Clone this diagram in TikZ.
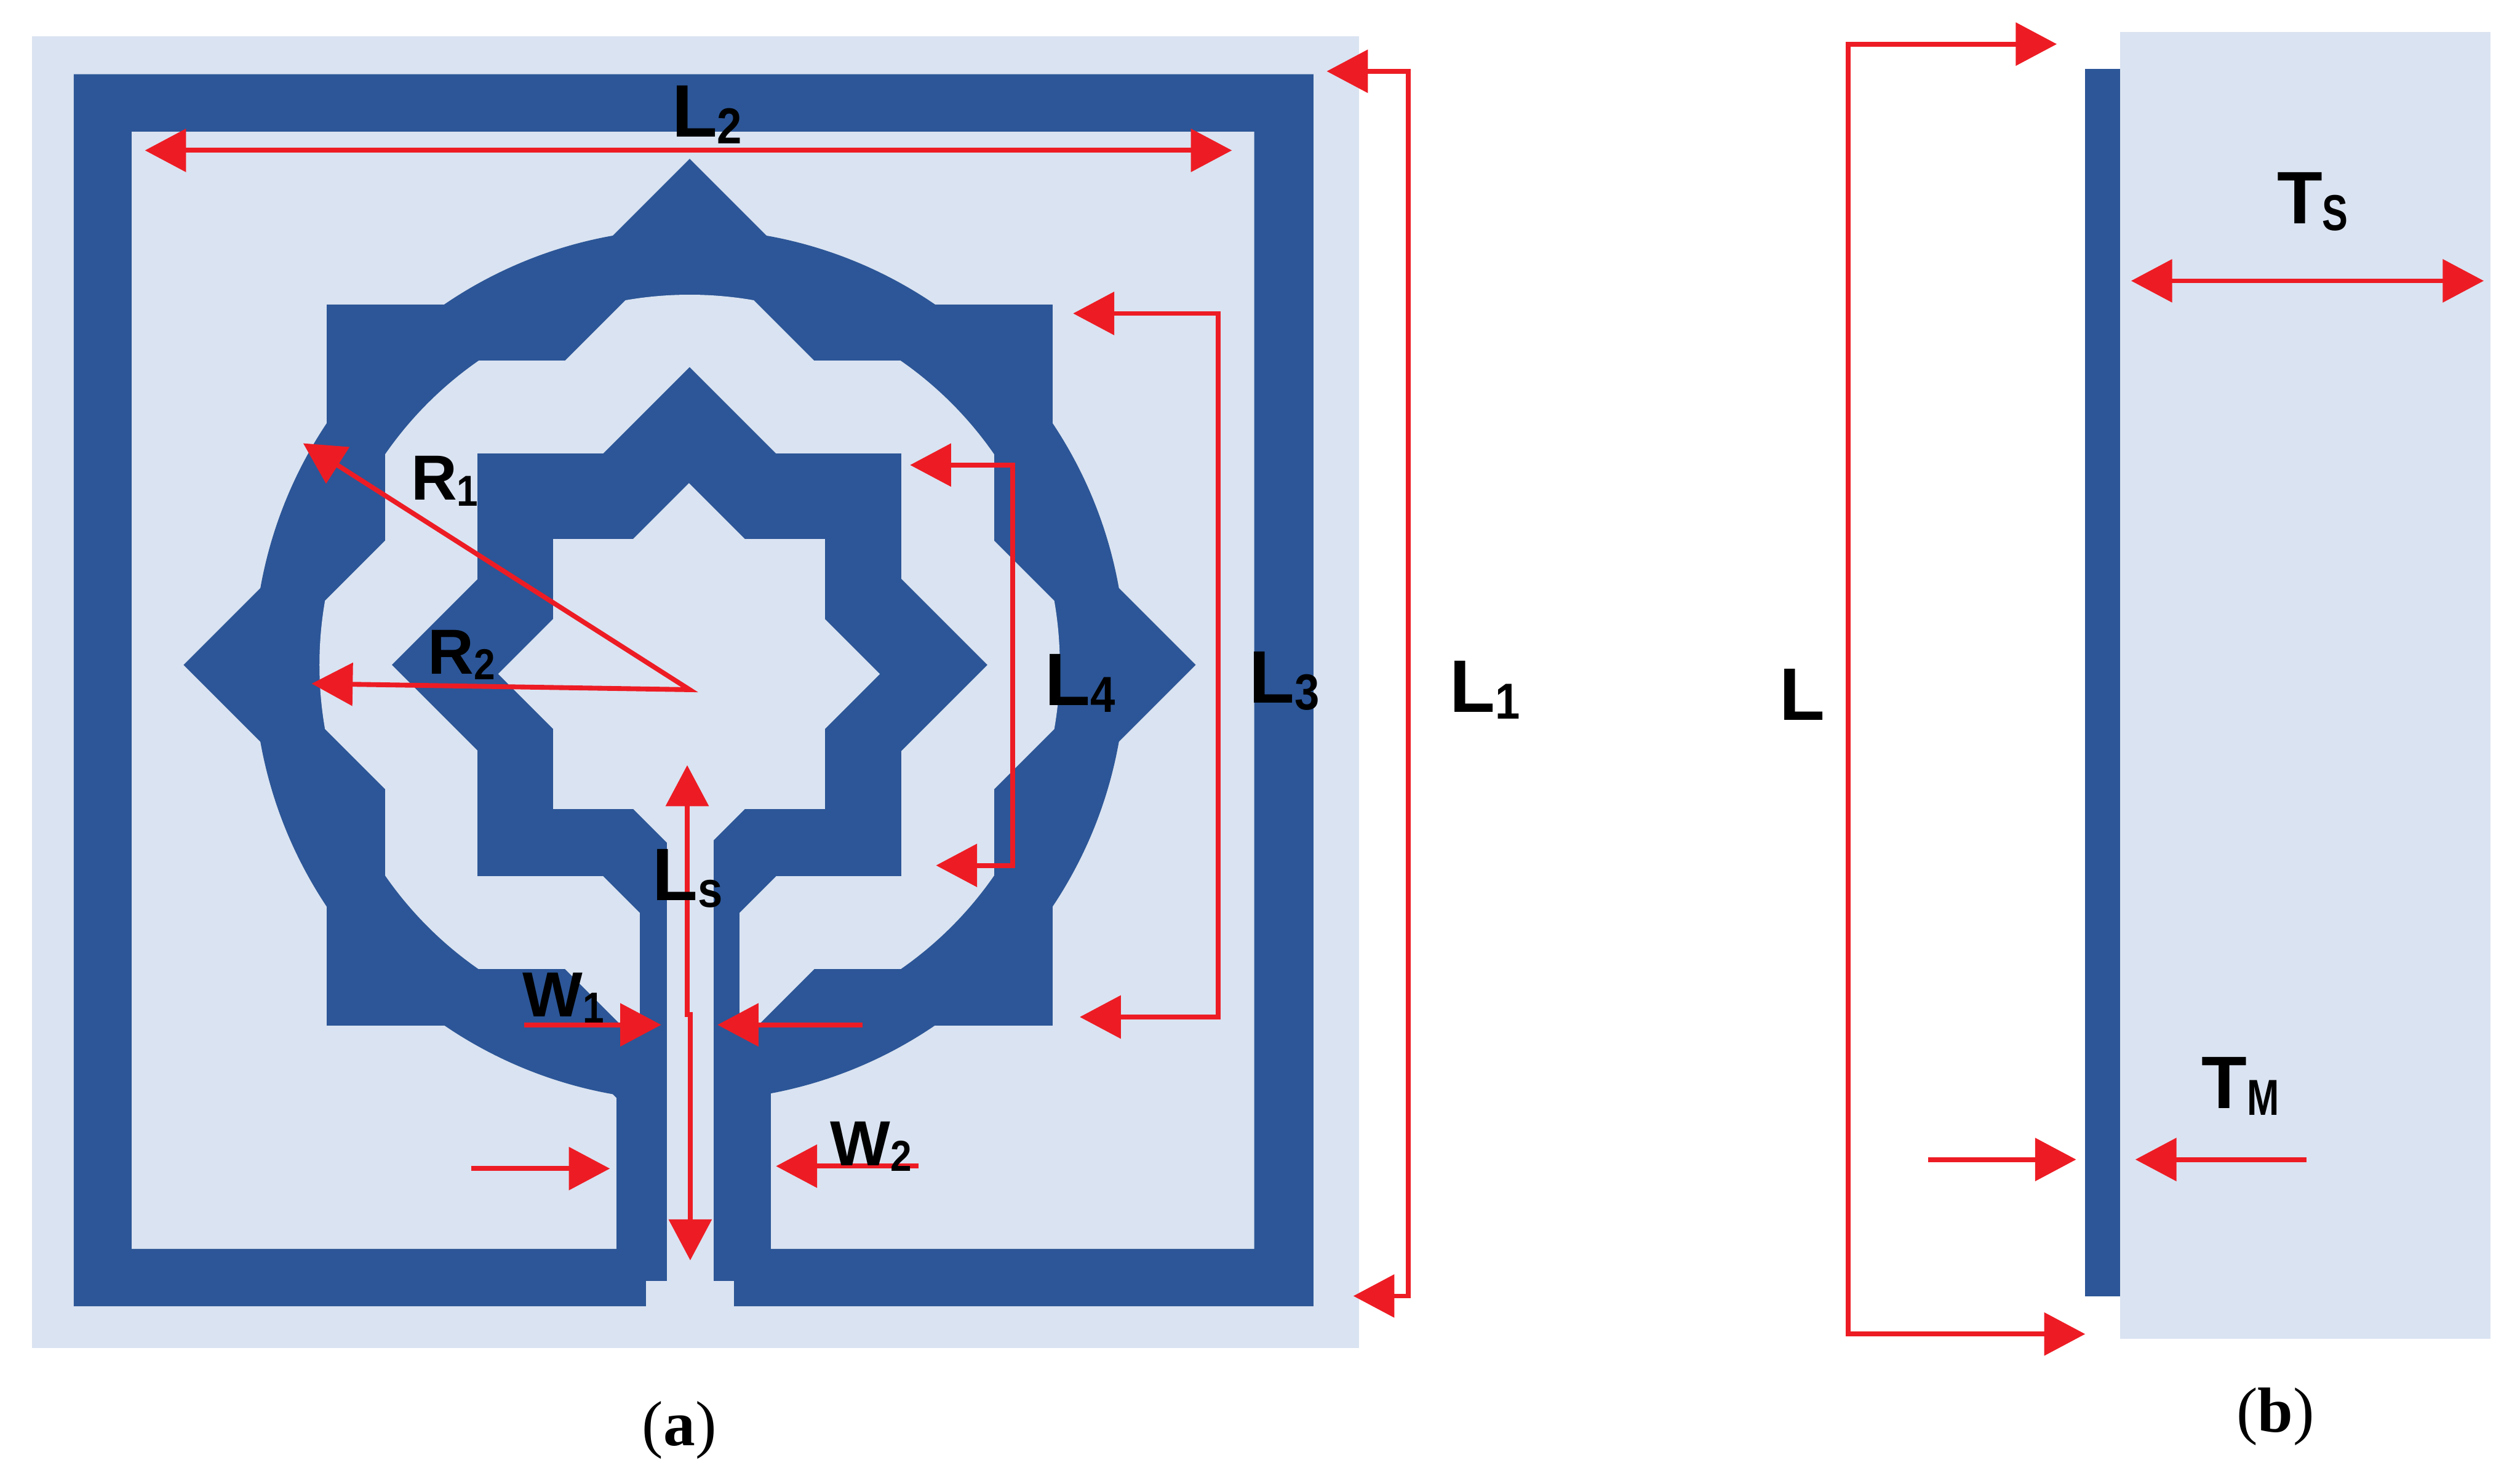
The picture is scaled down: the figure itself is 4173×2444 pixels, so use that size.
\documentclass[tikz,border=0pt]{standalone}
\usepackage{fontspec}
\setmainfont{Liberation Sans}
\newfontfamily\capfont{Liberation Serif}
\usetikzlibrary{arrows.meta}

\definecolor{patchblue}{HTML}{2C5697}
\definecolor{subblue}{HTML}{DAE3F1}
\definecolor{dimred}{HTML}{ED1C24}

% lowered index of a dimension label
\newcommand{\idx}[2][.6]{\raisebox{-.09em}{\scalebox{#1}[.68]{#2}}}
% square turned on its corner
\newcommand{\rhomb}[1]{(0,-#1) -- (#1,0) -- (0,#1) -- (-#1,0) -- cycle}

\tikzset{
    metal/.style={fill=patchblue},
    subst/.style={fill=subblue},
    dimtip/.tip={Triangle[length=.68cm,width=.7cm]},
    dimone/.style={draw=dimred,line width=.08cm,-{dimtip}},
    dimtwo/.style={draw=dimred,line width=.08cm,{dimtip}-{dimtip}},
    biglabel/.style={anchor=base west,inner sep=0pt,font=\fontsize{35}{35}\selectfont\bfseries},
    smalllabel/.style={anchor=base west,inner sep=0pt,font=\fontsize{30}{30}\selectfont\bfseries},
    caplabel/.style={inner sep=0pt,font=\fontsize{30}{30}\selectfont\capfont}
}

\begin{document}
\begin{tikzpicture}[x=.01cm,y=-.01cm]
    \useasboundingbox (0,0) rectangle (4173,2444);

    % Draw the substrate and the outer frame
    \fill[subst] (53,60) rectangle (2250,2232);
    \fill[metal,even odd rule] (122,123) rectangle (2175,2163) (218,218) rectangle (2077,2068);

    % Outer ring: circle, square and rhombus on top of each other
    \begin{scope}[shift={(1142,1101)}]
        \fill[metal] (0,0) circle (722);
        \fill[metal] (-601,-597) rectangle (601,597);
        \fill[metal] \rhomb{838};
        \begin{scope}
            \clip (0,0) circle (613);
            \fill[subst] (-504,-504) rectangle (504,504);
            \fill[subst] \rhomb{710};
        \end{scope}
        % Inner star
        \fill[metal] (-351,-350) rectangle (351,350);
        \fill[metal] \rhomb{493};
    \end{scope}

    % Feed strips
    \fill[metal] (1060,1379) rectangle (1104,1810);
    \fill[metal] (1182,1379) rectangle (1225,1810);
    \fill[metal] (1021,1805) rectangle (1104,2122);
    \fill[metal] (1182,1805) rectangle (1277,2122);

    % Opening of the inner star
    \begin{scope}[shift={(1141,1116)}]
        \fill[subst] (-225,-224) rectangle (225,224);
        \fill[subst] \rhomb{316};
    \end{scope}

    % Slot between the strips
    \fill[subst] (1104,1379) rectangle (1182,2122);
    \fill[subst] (1070,2121) rectangle (1215,2175);

    % Side view
    \fill[subst] (3511,53) rectangle (4124,2217);
    \fill[metal] (3453,114) rectangle (3511,2147);

    % Ends of the dimension arrows
    \foreach \nm/\x/\y in {ltwoA/240/249,ltwoB/2040/249,
                           loneA/2197/118,loneB/2332/118,loneC/2332/2146,loneD/2241/2146,
                           lthreeA/1777/519,lthreeB/2017/519,lthreeC/2017/1684,lthreeD/1788/1684,
                           lfourA/1507/770,lfourB/1677/770,lfourC/1677/1433,lfourD/1550/1433,
                           lsA/1138/1267,lsB/1138/1680,lsC/1143/1680,lsD/1143/2087,
                           roneA/502/734,rzero/1142/1142,rtwoA/516/1132,
                           woneA/868/1697,woneB/1095/1697,woneC/1428/1697,woneD/1188/1697,
                           wtwoA/780/1935,wtwoB/1010/1935,wtwoC/1521/1931,wtwoD/1285/1931,
                           lbA/3406/73,lbB/3060/73,lbC/3060/2209,lbD/3453/2209,
                           tsA/3529/465,tsB/4113/465,
                           tmA/3193/1920,tmB/3438/1920,tmC/3819/1920,tmD/3536/1920}
        \coordinate (\nm) at (\x,\y);

    % Dimension arrows
    \draw[dimtwo] (ltwoA) -- (ltwoB);
    \draw[dimtwo] (loneA) -- (loneB) -- (loneC) -- (loneD);
    \draw[dimtwo] (lthreeA) -- (lthreeB) -- (lthreeC) -- (lthreeD);
    \draw[dimtwo] (lfourA) -- (lfourB) -- (lfourC) -- (lfourD);
    \draw[dimtwo] (lsA) -- (lsB) -- (lsC) -- (lsD);
    \draw[dimtwo] (roneA) -- (rzero) -- (rtwoA);
    \foreach \from/\to in {woneA/woneB,woneC/woneD,wtwoA/wtwoB,wtwoC/wtwoD,tmA/tmB,tmC/tmD}
        \draw[dimone] (\from) -- (\to);
    \draw[dimtwo] (lbA) -- (lbB) -- (lbC) -- (lbD);
    \draw[dimtwo] (tsA) -- (tsB);

    % Labels
    \node[biglabel] (labLtwo) at (1112,227) {L\idx{2}};
    \node[biglabel] (labLone) at (2400,1179) {L\idx{1}};
    \node[biglabel] (labLthree) at (2068,1164) {L\idx{3}};
    \node[biglabel] (labLfour) at (1730,1168) {L\idx{4}};
    \node[biglabel] (labLs) at (1080,1491) {L\idx{s}};
    \node[smalllabel] (labRone) at (680,828) {R\idx{1}};
    \node[smalllabel] (labRtwo) at (708,1116) {R\idx{2}};
    \node[smalllabel] (labWone) at (865,1684) {W\idx{1}};
    \node[smalllabel] (labWtwo) at (1374,1930) {W\idx{2}};
    \node[biglabel] (labL) at (2946,1192) {L};
    \node[biglabel] (labTs) at (3770,370) {T\idx[.52]{S}};
    \node[biglabel] (labTm) at (3645,1835) {T\idx[.52]{M}};
    \node[caplabel] (capA) at (1125,2368) {(\textbf{a})};
    \node[caplabel] (capB) at (3768,2346) {(\textbf{b})};
\end{tikzpicture}
\end{document}
